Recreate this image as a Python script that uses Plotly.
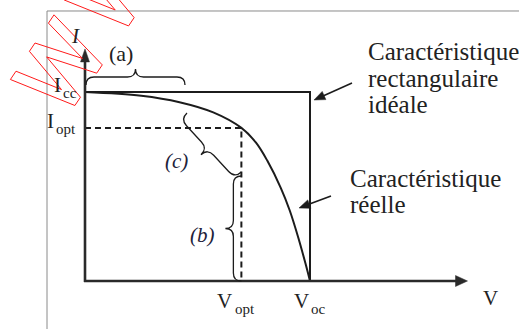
import math
import numpy as np
import plotly.graph_objects as go

W_PX, H_PX = 519, 329

# Characteristic points (normalised so that Voc = 1 and Icc = 1)
v_oc = 1.0
i_cc = 1.0
v_opt = 0.695
i_opt = 0.81

# Real I-V characteristic of the cell
v_reelle = [0.0, 0.25, 0.42, 0.57, 0.695, 0.76, 0.81, 0.87, 0.91, 0.95, 0.98, 1.0]
i_reelle = [1.0, 0.98, 0.946, 0.892, 0.81, 0.732, 0.637, 0.493, 0.373, 0.221, 0.092, 0.0]

# Ideal rectangular characteristic
v_ideale = [0.0, v_oc, v_oc]
i_ideale = [i_cc, i_cc, 0.0]

# Axis extents (arrow tips), in data units
v_axis_end = 1.70
i_axis_end = 1.228

# Layout: origin pixel and pixels per unit
X0, Y0 = 85, 281
SX, SY = 225, 189
x_range = [-X0 / SX, (W_PX - X0) / SX]
y_range = [(Y0 - H_PX) / SY, Y0 / SY]


def to_px(x, y):
    return X0 + x * SX, Y0 - y * SY


def paper(px, py):
    return px / W_PX, 1 - py / H_PX


INK = "#1c1c1c"
SERIF = "Liberation Serif, DejaVu Serif, Times New Roman, serif"

fig = go.Figure()

# Ideal rectangle
fig.add_trace(go.Scatter(x=v_ideale, y=i_ideale, mode="lines",
                         line=dict(color=INK, width=2), hoverinfo="skip"))
# Dashed optimum lines
fig.add_trace(go.Scatter(x=[0, v_opt, v_opt], y=[i_opt, i_opt, 0], mode="lines",
                         line=dict(color=INK, width=2, dash="6px,4px"), hoverinfo="skip"))
# Real characteristic
fig.add_trace(go.Scatter(x=v_reelle, y=i_reelle, mode="lines",
                         line=dict(color=INK, width=2, shape="spline", smoothing=1.0),
                         hoverinfo="skip"))

shapes = []


def fmt(px, py):
    x, y = paper(px, py)
    return f"{x:.5f},{y:.5f}"


def path_from_px(points, closed=False):
    parts = [("M" if k == 0 else "L") + fmt(px, py) for k, (px, py) in enumerate(points)]
    return " ".join(parts) + (" Z" if closed else "")


def arrow(tail, tip, color, width, head_len, head_half):
    """Straight arrow in pixel space: a line plus a filled triangular head."""
    tail = np.array(tail, float)
    tip = np.array(tip, float)
    u = tip - tail
    u /= np.linalg.norm(u)
    n = np.array([-u[1], u[0]])
    base = tip - head_len * u
    shapes.append(dict(type="path", xref="paper", yref="paper",
                       path=path_from_px([tuple(tail), tuple(base + 0.5 * u)]),
                       line=dict(color=color, width=width)))
    shapes.append(dict(type="path", xref="paper", yref="paper",
                       path=path_from_px([tuple(tip), tuple(base + head_half * n),
                                          tuple(base - head_half * n)], closed=True),
                       fillcolor=color, line=dict(color=color, width=0.5)))


def brace_path(p0, p1, depth):
    """Curly brace from p0 to p1 (pixels); tip on the left of the p0->p1 direction."""
    p0 = np.array(p0, float)
    p1 = np.array(p1, float)
    t = p1 - p0
    L = float(np.linalg.norm(t))
    t /= L
    n = np.array([t[1], -t[0]])
    h = depth / 2
    r = min(h, L / 4)

    def P(u, v):
        q = p0 + u * t + v * n
        return fmt(q[0], q[1])

    return (f"M{P(0, 0)} Q{P(0, h)} {P(r, h)} L{P(L/2 - r, h)} "
            f"Q{P(L/2, h)} {P(L/2, depth)} Q{P(L/2, h)} {P(L/2 + r, h)} "
            f"L{P(L - r, h)} Q{P(L, h)} {P(L, 0)}")


# Coordinate axes with arrow heads
ox, oy = to_px(0, 0)
arrow((ox - 1, oy), to_px(v_axis_end, 0), "#2a2a2a", 2.6, 12, 5.5)
arrow((ox, oy + 1), to_px(0, i_axis_end), "#2a2a2a", 2.6, 13, 4.5)

# Braces (a), (b), (c)
xa0, ya0 = to_px(0, i_cc)
shapes.append(dict(type="path", xref="paper", yref="paper",
                   path=brace_path((xa0 + 1, ya0 - 7), (185, ya0 - 7), 16),
                   line=dict(color=INK, width=1.3)))
xo, yo = to_px(v_opt, i_opt)
_, ybot = to_px(v_opt, 0)
shapes.append(dict(type="path", xref="paper", yref="paper",
                   path=brace_path((xo, ybot), (xo, 176), 16),
                   line=dict(color=INK, width=1.3)))
shapes.append(dict(type="path", xref="paper", yref="paper",
                   path=brace_path((xo, 172), (187, 113), 18),
                   line=dict(color=INK, width=1.3)))

# Page frame
shapes.append(dict(type="path", xref="paper", yref="paper",
                   path=path_from_px([(47, H_PX), (47, 11), (W_PX, 11)]),
                   line=dict(color="#8a8a8a", width=1)))


# Outlined "WWW" watermark
def w_outline(Wd=78.0, h=68.0, s=10.0):
    def inter(a1, a2, b1, b2):
        a1, a2, b1, b2 = map(lambda p: np.array(p, float), (a1, a2, b1, b2))
        da, db = a2 - a1, b2 - b1
        m = np.array([da, -db]).T
        tt = np.linalg.solve(m, b1 - a1)
        return tuple(a1 + tt[0] * da)

    q1 = (Wd / 4 - s / 2, h)
    q2 = (Wd / 4 + s / 2, h)
    q3 = (3 * Wd / 4 - s / 2, h)
    q4 = (3 * Wd / 4 + s / 2, h)
    A = (0, 0)
    B = (s, 0)
    D = (Wd / 2 - s / 2, 0)
    E = (Wd / 2 + s / 2, 0)
    G = (Wd - s, 0)
    H = (Wd, 0)
    C = inter(B, q2, D, q1)
    F = inter(E, q4, G, q3)
    K = inter(D, q3, E, q2)
    return [A, B, C, D, E, F, G, H, q4, q3, K, q2, q1]


ang = math.radians(56)
r_vec = np.array([math.cos(ang), -math.sin(ang)])
d_vec = np.array([math.sin(ang), math.cos(ang)])
origin = np.array([10.4, 79.5])
for k in range(3):
    o = origin + k * 96 * r_vec
    pts = [tuple(o + x * r_vec + y * d_vec) for x, y in w_outline()]
    shapes.append(dict(type="path", xref="paper", yref="paper",
                       path=path_from_px(pts, closed=True),
                       line=dict(color="#ff1a1a", width=1)))

annotations = []


def label(text, px, py, size=21, xanchor="center", italic=False, color="#222222"):
    x, y = paper(px, py)
    annotations.append(dict(x=x, y=y, xref="paper", yref="paper", text=text,
                            showarrow=False, xanchor=xanchor, yanchor="middle",
                            borderpad=0,
                            font=dict(family=SERIF, size=size, color=color,
                                      style="italic" if italic else "normal")))


def sub_label(main, sub, x_join, baseline, size=21, sub_size=15):
    """Letter with a lowered subscript; x_join is where the two meet (pixels)."""
    label(main, x_join, baseline - 0.34 * size, size=size, xanchor="right")
    label(sub, x_join + 0.3, baseline + 6 - 0.34 * sub_size, size=sub_size, xanchor="left")


# Axis names
label("I", 75, 36, italic=True)
label("V", 490, 298)

# Labels at the characteristic values
xv_opt, _ = to_px(v_opt, 0)
xv_oc, _ = to_px(v_oc, 0)
_, yi_cc = to_px(0, i_cc)
_, yi_opt = to_px(0, i_opt)
sub_label("I", "cc", 62, yi_cc)
sub_label("I", "opt", 55, yi_opt)
sub_label("V", "opt", xv_opt - 8, 308)
sub_label("V", "oc", xv_oc, 308)

# Brace labels
label("(a)", 121, 54, size=22)
label("(c)", 176, 161, italic=True, color="#22223a")
label("(b)", 202, 235, italic=True, color="#22223a")

# Curve captions
for k, line in enumerate(["Caractéristique", "rectangulaire", "idéale"]):
    label(line, 367, 51.6 + 26.6 * k, size=25, xanchor="left")
for k, line in enumerate(["Caractéristique", "réelle"]):
    label(line, 349, 178.3 + 26 * k, size=25, xanchor="left")

# Pointers from captions to the curves
xr, yr = to_px(v_oc, i_cc)
arrow((352, 83), (xr + 4, 100), INK, 1.6, 11, 4.5)
arrow((331, 196), (299, 208), INK, 1.6, 11, 4.5)

fig.update_layout(
    width=W_PX, height=H_PX,
    margin=dict(l=0, r=0, t=0, b=0),
    paper_bgcolor="white", plot_bgcolor="white",
    showlegend=False,
    xaxis=dict(range=x_range, visible=False, fixedrange=True),
    yaxis=dict(range=y_range, visible=False, fixedrange=True),
    shapes=shapes,
    annotations=annotations,
)

fig.write_html("out.html", config={"displayModeBar": False})
